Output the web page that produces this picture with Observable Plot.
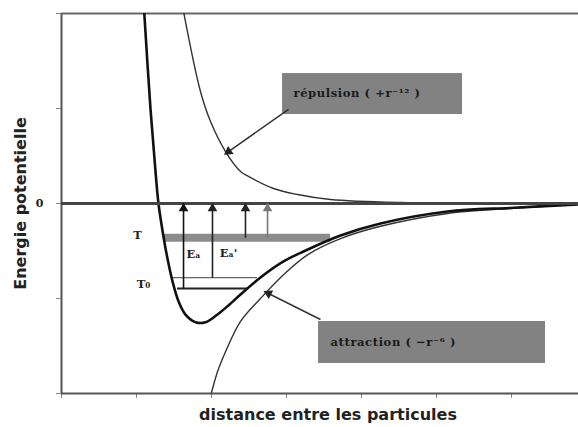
<!DOCTYPE html>
<html>
<head>
<meta charset="utf-8">
<script src="https://cdn.jsdelivr.net/npm/d3@7"></script>
<script src="https://cdn.jsdelivr.net/npm/@observablehq/plot@0.6"></script>
<style>
  html, body { margin: 0; padding: 0; background: #fff; }
</style>
</head>
<body>
<div id="chart"></div>
<script>
// ---- Data ----
const xTicks = [0, 1, 2, 3, 4, 5, 6];
const yTicks = [-2, -1, 0, 1, 2];

// total potential (thick curve)
const totalX = [1.10, 1.187, 1.253, 1.293, 1.36, 1.413, 1.48, 1.56, 1.653, 1.787, 1.92, 2.08, 2.23, 2.387, 2.653, 2.96, 3.227, 3.72, 4.253, 5.147, 6.027, 6.893];
const totalY = [2.05, 0.99, 0.34, 0.0, -0.35, -0.58, -0.82, -1.03, -1.17, -1.25, -1.25, -1.168, -1.07, -0.958, -0.779, -0.61, -0.505, -0.337, -0.21, -0.084, -0.045, -0.01];

// repulsion (+r^-12)
const repX = [1.62, 1.853, 1.987, 2.187, 2.387, 2.48, 2.827, 3.147, 3.587, 4.52, 6.893];
const repY = [2.05, 1.179, 0.863, 0.547, 0.337, 0.29, 0.158, 0.095, 0.042, 0.01, 0.0];

// attraction (-r^-6)
const attX = [1.98, 2.08, 2.187, 2.387, 2.653, 2.96, 3.28, 3.72, 4.253, 5.147, 6.03, 6.893];
const attY = [-2.05, -1.77, -1.56, -1.24, -1.0, -0.75, -0.54, -0.37, -0.24, -0.105, -0.05, -0.01];

// energy levels
const levelY = [-0.36, -0.78, -0.895];
const levelX1 = [1.36, 1.48, 1.547];
const levelX2 = [3.587, 2.613, 2.48];
const levelWidth = [8, 1.3, 2];
const levelColor = ["#8c8c8c", "#666", "#222"];

// vertical arrows up to zero
const arrowX = [1.627, 2.013, 2.453, 2.747];
const arrowFrom = [-0.895, -0.78, -0.36, -0.36];
const arrowColor = ["#111", "#222", "#222", "#777"];

// level labels
const labelText = ["T", "T₀", "Eₐ", "Eₐ'"];
const labelX = [1.013, 1.093, 1.76, 2.227];
const labelY = [-0.337, -0.853, -0.537, -0.526];

// annotation boxes
const boxText = ["répulsion ( +r⁻¹² )", "attraction ( −r⁻⁶ )"];
const boxX1 = [2.947, 3.427];
const boxX2 = [5.347, 6.453];
const boxY1 = [1.368, -1.242];
const boxY2 = [0.937, -1.684];
const boxTextX = [3.093, 3.587];
const boxTextY = [1.158, -1.463];
// pointer arrows from boxes to curves
const ptrX1 = [3.027, 3.453];
const ptrY1 = [0.99, -1.221];
const ptrX2 = [2.227, 2.76];
const ptrY2 = [0.547, -0.947];
const ptrAngle = [-125, -63];

// ---- Tables ----
const total = totalX.map((x, i) => ({x, y: totalY[i]}));
const rep = repX.map((x, i) => ({x, y: repY[i]}));
const att = attX.map((x, i) => ({x, y: attY[i]}));
const levels = levelY.map((y, i) => ({y, x1: levelX1[i], x2: levelX2[i], w: levelWidth[i], c: levelColor[i]}));
const arrows = arrowX.map((x, i) => ({x, y1: arrowFrom[i], y2: 0, c: arrowColor[i]}));
const labels = labelText.map((t, i) => ({t, x: labelX[i], y: labelY[i]}));
const boxes = boxText.map((t, i) => ({t, x1: boxX1[i], x2: boxX2[i], y1: boxY1[i], y2: boxY2[i], tx: boxTextX[i], ty: boxTextY[i]}));
const ptrs = ptrX1.map((x1, i) => ({x1, y1: ptrY1[i], x2: ptrX2[i], y2: ptrY2[i], a: ptrAngle[i]}));

const sans = "'DejaVu Sans', Verdana, sans-serif";
const serif = "'DejaVu Serif', 'Liberation Serif', serif";

const chart = Plot.plot({
  width: 578,
  height: 427,
  marginLeft: 61,
  marginRight: 0,
  marginTop: 13,
  marginBottom: 34,
  style: {fontFamily: serif, background: "#fff", overflow: "visible"},
  x: {domain: [0, 6.893]},
  y: {domain: [-2, 2]},
  marks: [
    Plot.axisX({ticks: xTicks, tickFormat: () => "", tickSize: 5, stroke: "#888", label: null}),
    Plot.axisY({ticks: yTicks, tickFormat: d => d === 0 ? "0" : "", tickSize: 5, tickPadding: 13, stroke: "#888",
                fontSize: 11, fontWeight: "bold", fill: "#222", label: null}),
    Plot.text(["Energie potentielle"], {frameAnchor: "left", textAnchor: "middle", lineAnchor: "middle", dx: -41, rotate: -90,
                fontSize: 16, fontWeight: "bold", fontFamily: sans, fill: "#222"}),
    Plot.text(["distance entre les particules"], {frameAnchor: "bottom", textAnchor: "middle", lineAnchor: "middle", dy: 21, dx: 8,
                fontSize: 16, fontWeight: "bold", fontFamily: sans, fill: "#222"}),
    // frame lines
    Plot.ruleX([0], {stroke: "#555", strokeWidth: 2}),
    Plot.ruleY([2], {stroke: "#666", strokeWidth: 2}),
    Plot.ruleY([-2], {stroke: "#555", strokeWidth: 2}),
    // energy levels
    Plot.ruleY(levels, {y: "y", x1: "x1", x2: "x2", strokeWidth: "w", stroke: "c"}),
    // curves
    Plot.line(rep, {x: "x", y: "y", curve: "catmull-rom", stroke: "#333", strokeWidth: 1.4, clip: true}),
    Plot.line(att, {x: "x", y: "y", curve: "catmull-rom", stroke: "#333", strokeWidth: 1.4, clip: true}),
    Plot.line(total, {x: "x", y: "y", curve: "catmull-rom", stroke: "#111", strokeWidth: 2.6, clip: true}),
    // zero line
    Plot.ruleY([0], {stroke: "#444", strokeWidth: 3}),
    // vertical arrows
    Plot.link(arrows, {x1: "x", x2: "x", y1: "y1", y2: "y2", stroke: "c", strokeWidth: 1.6}),
    Plot.dot(arrows, {x: "x", y: "y2", symbol: "triangle", r: 3.6, fill: "c", stroke: "none", dy: 5}),
    // level labels
    Plot.text(labels, {x: "x", y: "y", text: "t", fontSize: 11.5, fontWeight: "bold", fill: "#222"}),
    // annotation boxes
    Plot.rect(boxes, {x1: "x1", x2: "x2", y1: "y1", y2: "y2", fill: "#828282"}),
    Plot.text(boxes, {x: "tx", y: "ty", text: "t", textAnchor: "start", fontSize: 11.5, fontWeight: "bold", fill: "#1a1a1a"}),
    Plot.link(ptrs, {x1: "x1", y1: "y1", x2: "x2", y2: "y2", stroke: "#333", strokeWidth: 1.5}),
    Plot.dot(ptrs, {x: "x2", y: "y2", symbol: "triangle", r: 3.6, fill: "#222", stroke: "none", rotate: "a"})
  ]
});
d3.select(chart).selectAll("text")
  .filter(function() { return boxText.includes(this.textContent); })
  .attr("letter-spacing", "0.6px");
document.getElementById("chart").appendChild(chart);
</script>
</body>
</html>
